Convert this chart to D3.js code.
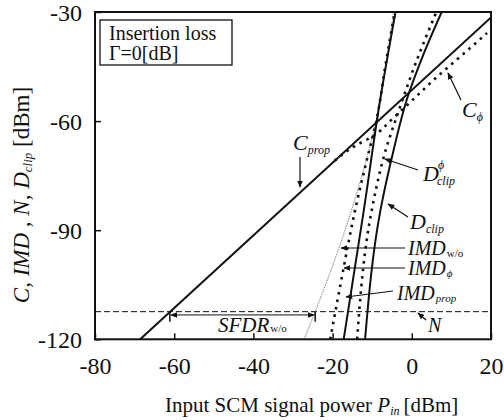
<!DOCTYPE html>
<html lang="en">
<head>
  <meta charset="utf-8" />
  <title>Insertion loss chart</title>
  <script src="https://cdn.jsdelivr.net/npm/d3@7"></script>
  <style>
    body { margin:0; background:#fff; }
    svg text { font-family:"Liberation Serif", "Times New Roman", serif; fill:#111; }
    .tick text { font-size:24px; }
  </style>
</head>
<body>
<div id="chart"></div>
<script>
// ---- data ([Pin dBm, level dBm]) ----
const xTicks = [-80, -60, -40, -20, 0, 20];
const yTicks = [-30, -60, -90, -120];

const cProp   = [[-68.6, -120], [20, -31.5]];
const cPhi    = [[-19.5, -70.9], [-14, -66.6], [-10, -64.3], [-5, -59.5],
                 [0, -54.4], [5.4, -48.8], [12.2, -42.3], [19, -35.8]];
const imdWo   = [[-27.2, -120], [-24.4, -112.4], [-15.2, -84.4], [-9.0, -59.7],
                 [-6.6, -45], [-4.6, -30]];
const imdPhi  = [[-20.6, -120], [-17.5, -102], [-14.3, -84.4], [-11.2, -70],
                 [-8.9, -59.7], [-6.7, -45], [-4.3, -30]];
const imdProp = [[-17.2, -120], [-12.1, -84.4], [-8.0, -54.2], [-4.1, -30]];
const dClipPhi = [[-13.8, -120], [-10.1, -84.4], [-6.6, -68], [-3.5, -57.8],
                  [1, -44], [6.2, -30]];
const dClip   = [[-11.8, -120], [-7.9, -84.4], [-4.6, -68], [-1.3, -54.2],
                 [3, -41.5], [7.55, -30]];
const noiseLevel = -112.4;
const sfdrRange = [-61.1, -24.4];
const sfdrLevel = -113.3;

// ---- layout ----
const W = 504, H = 420;
const x = d3.scaleLinear().domain([-80, 20]).range([95, 491]);
const y = d3.scaleLinear().domain([-120, -30]).range([339.3, 12]);

const svg = d3.select("#chart").append("svg")
  .attr("width", W).attr("height", H);

const defs = svg.append("defs");
defs.append("clipPath").attr("id", "plot")
  .append("rect")
  .attr("x", x(-80)).attr("y", y(-30))
  .attr("width", x(20) - x(-80)).attr("height", y(-120) - y(-30));
defs.append("marker").attr("id", "ah")
  .attr("viewBox", "0 0 10 10").attr("refX", 9).attr("refY", 5)
  .attr("markerWidth", 7).attr("markerHeight", 7)
  .attr("markerUnits", "userSpaceOnUse")
  .attr("orient", "auto-start-reverse")
  .append("path").attr("d", "M0,1L10,5L0,9Z").attr("fill", "#111");

// axes (inward ticks, plain hyphen minus like the original)
const fmt = d => String(d);
const xAxis = d3.axisBottom(x).tickValues(xTicks).tickSizeInner(-6).tickSizeOuter(0)
  .tickPadding(18).tickFormat(fmt);
const yAxis = d3.axisLeft(y).tickValues(yTicks).tickSizeInner(-6).tickSizeOuter(0)
  .tickPadding(13).tickFormat(fmt);

svg.append("g").attr("transform", `translate(0,${y(-120)})`).call(xAxis)
  .call(g => g.select(".domain").remove())
  .call(g => g.selectAll("line").attr("stroke", "#111").attr("stroke-width", 1.5));
svg.append("g").attr("transform", `translate(${x(-80)},0)`).call(yAxis)
  .call(g => g.select(".domain").remove())
  .call(g => g.selectAll("line").attr("stroke", "#111").attr("stroke-width", 1.5))
  .call(g => g.selectAll("text").attr("dy", "0.35em"));

// curves
const line = d3.line().x(d => x(d[0])).y(d => y(d[1])).curve(d3.curveMonotoneY);
const plot = svg.append("g").attr("clip-path", "url(#plot)");

// noise floor
plot.append("line")
  .attr("x1", x(-80)).attr("x2", x(20))
  .attr("y1", y(noiseLevel)).attr("y2", y(noiseLevel))
  .attr("stroke", "#111").attr("stroke-width", 1).attr("stroke-dasharray", "6,3");

plot.append("path").datum(imdWo).attr("d", line)
  .attr("fill", "none").attr("stroke", "#999").attr("stroke-width", 1.2)
  .attr("stroke-dasharray", "1.5,1");

const solid = [cProp, imdProp, dClip];
const dotted = [cPhi, imdPhi, dClipPhi];
solid.forEach(s => plot.append("path").datum(s).attr("d", line)
  .attr("fill", "none").attr("stroke", "#111").attr("stroke-width", 2));
dotted.forEach(s => plot.append("path").datum(s).attr("d", line)
  .attr("fill", "none").attr("stroke", "#111").attr("stroke-width", 2.6)
  .attr("stroke-dasharray", "2.6,5"));

// frame
svg.append("rect")
  .attr("x", x(-80)).attr("y", y(-30))
  .attr("width", x(20) - x(-80)).attr("height", y(-120) - y(-30))
  .attr("fill", "none").attr("stroke", "#111").attr("stroke-width", 2);

// SFDR marker
const ys = y(sfdrLevel);
sfdrRange.forEach(v => svg.append("line")
  .attr("x1", x(v)).attr("x2", x(v)).attr("y1", y(noiseLevel)).attr("y2", y(noiseLevel) + 10)
  .attr("stroke", "#111").attr("stroke-width", 1.5));
svg.append("line")
  .attr("x1", x(sfdrRange[0]) + 1).attr("x2", x(sfdrRange[1]) - 1)
  .attr("y1", ys).attr("y2", ys)
  .attr("stroke", "#111").attr("stroke-width", 1)
  .attr("marker-start", "url(#ah)").attr("marker-end", "url(#ah)");

// annotation arrows in pixels from the label to its curve
function arrow(x1, y1, x2, y2) {
  svg.append("line").attr("x1", x1).attr("y1", y1).attr("x2", x2).attr("y2", y2)
    .attr("stroke", "#111").attr("stroke-width", 1.2).attr("marker-end", "url(#ah)");
}
arrow(300, 157, 300, 187);   // C prop
arrow(461, 100, 448, 73);    // C phi
arrow(418, 170, 385, 159);   // D clip phi
arrow(408, 217, 388, 204);   // D clip
arrow(405, 248, 341, 248);   // IMD w/o
arrow(405, 268, 344, 268);   // IMD phi
arrow(393, 291, 346, 297);   // IMD prop
arrow(426, 320, 418, 313);   // N

// labels: parts = [text, size, italic, dx, dy]
function label(px, py, parts) {
  const t = svg.append("text").attr("x", px).attr("y", py);
  parts.forEach(p => t.append("tspan")
    .attr("font-size", p[1]).attr("font-style", p[2] ? "italic" : "normal")
    .attr("dx", p[3] || 0).attr("dy", p[4] || 0).text(p[0]));
  return t;
}
label(293, 150, [["C", 22, true], ["prop", 12, true, 0, 4]]);
label(462, 117, [["C", 22, true], ["ϕ", 12, true, 0, 4]]);
label(423, 181, [["D", 22, true]]);
label(438, 169, [["ϕ", 12, true]]);
label(437, 185, [["clip", 12, true]]);
label(410, 229, [["D", 22, true], ["clip", 12, true, 0, 4]]);
label(408, 255, [["IMD", 20, true], ["w/o", 11, false, 1, 2]]);
label(408, 275, [["IMD", 20, true], ["ϕ", 11, true, 1, 2]]);
label(397, 300, [["IMD", 20, true], ["prop", 11, true, 1, 2]]);
label(428, 332, [["N", 20, true]]);
label(218, 332, [["SFDR", 21, true], ["w/o", 11, false, 1, 0]]);

// insertion loss box
svg.append("rect").attr("x", 100).attr("y", 20).attr("width", 132).attr("height", 45)
  .attr("fill", "#fff").attr("stroke", "#111").attr("stroke-width", 1.3);
label(109, 40, [["Insertion loss", 20, false]]);
label(109, 60, [["Γ=0[dB]", 20, false]]);

// axis titles
label(165, 412, [["Input SCM signal power ", 21, false], ["P", 21, true], ["in", 12, true, 0, 3],
  ["[dBm]", 21, false, 4, -3]]);
label(0, 0, [["C, ", 23, true], ["IMD", 23, true], [" , ", 23, true], ["N, ", 23, true], [" D", 23, true],
  ["clip", 13, true, 0, 3], [" [dBm]", 23, false, 0, -3]])
  .attr("text-anchor", "middle")
  .attr("transform", "translate(29,195) rotate(-90)");
</script>
</body>
</html>
